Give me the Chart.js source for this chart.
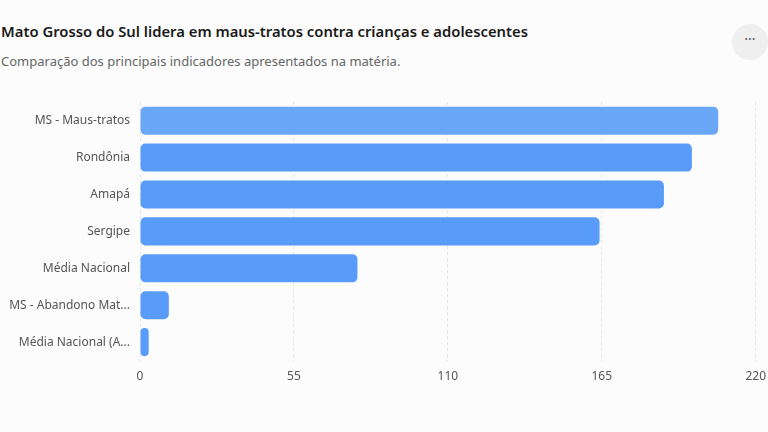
<!DOCTYPE html>
<html lang="pt-BR">
<head>
<meta charset="utf-8">
<script src="https://cdn.jsdelivr.net/npm/chart.js@4.4.1/dist/chart.umd.min.js"></script>
<style>
  html, body { margin: 0; padding: 0; background: #fcfcfc; }
  body { width: 768px; height: 432px; position: relative; overflow: hidden; font-family: "Noto Sans", "Open Sans", sans-serif; }
  #title { position: absolute; left: 1px; top: 21px; font-size: 14.8px; font-weight: 600; color: #1a1a1a; white-space: nowrap; }
  #subtitle { position: absolute; left: 1px; top: 52px; font-size: 13px; color: #666; white-space: nowrap; }
  #menu { position: absolute; left: 732px; top: 24px; width: 36px; height: 36px; border-radius: 50%; background: #efefef; color: #555; font-size: 14px; line-height: 30px; text-align: center; }
  #wrap { position: absolute; left: 0; top: 85px; width: 775px; height: 308px; }
</style>
</head>
<body>
<div id="title">Mato Grosso do Sul lidera em maus-tratos contra crianças e adolescentes</div>
<div id="subtitle">Comparação dos principais indicadores apresentados na matéria.</div>
<div id="menu">···</div>
<div id="wrap"><canvas id="barChart"></canvas></div>
<script>
// Dados
const categories = [
    'MS - Maus-tratos',
    'Rondônia',
    'Amapá',
    'Sergipe',
    'Média Nacional',
    'MS - Abandono Material',
    'Média Nacional (Abandono)'
];
const values = [206.6, 197.2, 187.2, 164.2, 77.7, 10.3, 3.1];
const xTicks = [0, 55, 110, 165, 220];

function shortLabel(text, max) {
    return text.length > max ? text.slice(0, max) + '...' : text;
}

const ctx = document.getElementById('barChart').getContext('2d');

const barChart = new Chart(ctx, {
    type: 'bar',
    data: {
        labels: categories,
        datasets: [{
            label: 'Indicador',
            data: values,
            backgroundColor: (c) => c.dataIndex === 0 ? '#6ba7f9' : '#589bf8',
            borderRadius: 5,
            borderSkipped: false,
            categoryPercentage: 0.8,
            barPercentage: 0.95
        }]
    },
    options: {
        indexAxis: 'y',
        responsive: true,
        maintainAspectRatio: false,
        animation: false,
        layout: { padding: { top: 5, right: 7, bottom: 0, left: 0 } },
        scales: {
            x: {
                min: xTicks[0],
                max: xTicks[xTicks.length - 1],
                afterBuildTicks: (scale) => {
                    scale.ticks = xTicks.map(v => ({ value: v }));
                },
                grid: { color: '#e3e3e3', drawTicks: false },
                border: { display: false, dash: [3, 3] },
                ticks: {
                    color: '#555',
                    padding: 9,
                    font: { family: 'Noto Sans', size: 12 }
                }
            },
            y: {
                afterFit: (scale) => { scale.width = 140; },
                grid: { display: false, drawTicks: false },
                border: { display: false },
                ticks: {
                    color: '#555',
                    padding: 10,
                    font: { family: 'Noto Sans', size: 12 },
                    callback: function(value) {
                        return shortLabel(this.getLabelForValue(value), 17);
                    }
                }
            }
        },
        plugins: {
            legend: { display: false },
            tooltip: { enabled: false }
        }
    }
});
</script>
</body>
</html>
